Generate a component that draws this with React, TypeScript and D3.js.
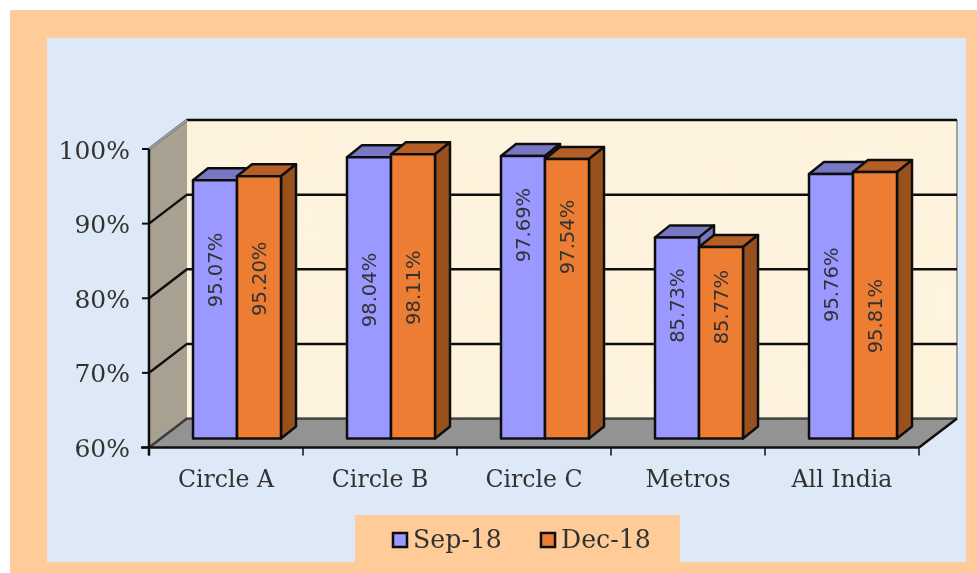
import React from "react";
import * as d3 from "d3";

const categories = ["Circle A", "Circle B", "Circle C", "Metros", "All India"];
const seriesNames = ["Sep-18", "Dec-18"];
// Bar heights as drawn in the picture, read against the axis
const sep18Heights = [94.6, 97.7, 97.85, 86.95, 95.45];
const dec18Heights = [95.15, 98.1, 97.45, 85.65, 95.7];
// Printed data labels
const sep18Labels = ["95.07%", "98.04%", "97.69%", "85.73%", "95.76%"];
const dec18Labels = ["95.20%", "98.11%", "97.54%", "85.77%", "95.81%"];
// Where each label is centred, in axis units
const sep18LabelAt = [82.58, 79.9, 88.6, 77.8, 80.6];
const dec18LabelAt = [81.4, 80.2, 87.0, 77.6, 76.4];
const yTicks = [60, 70, 80, 90, 100];

const W = 977, H = 573;
const depthX = 38, depthY = -29;
const barDepthX = 15, barDepthY = -12;
const barLift = 9, barShift = 11;
const serif = "'DejaVu Serif', serif";
const sans = "'DejaVu Sans', sans-serif";
const ink = "#111";
const textInk = "#333";

const palettes = [
  { front: "#9999FF", top: "#7878C2", side: "#7878C2" },
  { front: "#ED7D31", top: "#B55F25", side: "#98511F" },
];

const pts = (p: number[][]) => p.map((d) => d.join(",")).join(" ");

export default function App() {
  const x = d3.scaleBand<string>().domain(categories).range([149, 919]);
  const y = d3.scaleLinear().domain([60, 100]).range([447.5, 149]);
  const group = d3.scaleBand<string>().domain(seriesNames).range([0, 88]);
  const x0 = x.range()[0], x1 = x.range()[1];
  const yBase = y(60), yTop = y(100);
  const series = [
    { name: seriesNames[0], h: sep18Heights, l: sep18Labels, at: sep18LabelAt },
    { name: seriesNames[1], h: dec18Heights, l: dec18Labels, at: dec18LabelAt },
  ];
  const xEdges = [...categories.map((c) => x(c)!), x1];
  return (
    <svg width={W} height={H} style={{ position: "absolute", left: 0, top: 0, display: "block" }}>
      <defs>
        <filter id="soft" x="-2%" y="-2%" width="104%" height="104%">
          <feGaussianBlur stdDeviation="0.5" />
        </filter>
        <filter id="paper" x="0" y="0" width="100%" height="100%">
          <feTurbulence type="fractalNoise" baseFrequency="0.015" numOctaves={3} seed={4} />
          <feColorMatrix values="0 0 0 0 1  0 0 0 0 1  0 0 0 0 1  0.5 0 0 0 -0.12" />
        </filter>
      </defs>
      <rect width={W} height={H} fill="#fff" />
      <rect x={10} y={10} width={W - 10} height={H - 10} fill="#FFCC99" />
      <rect x={47} y={38} width={919} height={524} fill="#DDE9F6" />
      <rect x={355} y={515} width={325} height={47} fill="#FFCC99" />
      <g filter="url(#soft)">
        {/* back wall */}
        <rect x={x0 + depthX} y={yTop + depthY} width={x1 - x0} height={yBase - yTop} fill="#FEF2DB" />
        <rect x={x0 + depthX} y={yTop + depthY} width={x1 - x0} height={yBase - yTop} filter="url(#paper)" opacity={0.5} />
        <line x1={x1 + depthX} x2={x1 + depthX} y1={yTop + depthY} y2={yBase + depthY} stroke="#8a8a8a" strokeWidth={1.5} />
        {/* side wall */}
        <polygon
          points={pts([[x0, yBase], [x0, yTop], [x0 + depthX, yTop + depthY], [x0 + depthX, yBase + depthY]])}
          fill="#A8A192"
        />
        {/* floor */}
        <polygon
          points={pts([[x0, yBase], [x1, yBase], [x1 + depthX, yBase + depthY], [x0 + depthX, yBase + depthY]])}
          fill="#939393"
        />
        {/* grid */}
        {yTicks.map((t) => (
          <polyline
            key={t}
            points={pts([[x0, y(t)], [x0 + depthX, y(t) + depthY], [x1 + depthX, y(t) + depthY]])}
            fill="none"
            stroke={ink}
            strokeWidth={2.5}
            opacity={t === 60 ? 0.7 : 1}
          />
        ))}
        <line x1={x0} y1={yTop} x2={x0 + depthX} y2={yTop + depthY} stroke="#9a9a9a" strokeWidth={2.5} />
        <line x1={x1} y1={yBase} x2={x1 + depthX} y2={yBase + depthY} stroke={ink} strokeWidth={2.5} />
        {/* axes */}
        <line x1={x0} x2={x0} y1={yTop} y2={yBase + 8} stroke={ink} strokeWidth={2.5} />
        <line x1={x0 - 8} x2={x1} y1={yBase} y2={yBase} stroke={ink} strokeWidth={2.5} />
        {yTicks.map((t) => (
          <line key={t} x1={x0 - 7} x2={x0} y1={y(t)} y2={y(t)} stroke={ink} strokeWidth={2} />
        ))}
        {xEdges.map((e) => (
          <line key={e} x1={e} x2={e} y1={yBase} y2={yBase + 8} stroke={ink} strokeWidth={1.5} />
        ))}
        {/* bars */}
        {categories.map((c, i) => {
          const left = x(c)! + (x.bandwidth() - group.range()[1]) / 2 + barShift;
          return (
            <g key={c}>
              {series.map((s, k) => {
                const p = palettes[k];
                const bx = left + group(s.name)!;
                const bw = group.bandwidth();
                const top = y(s.h[i]) - barLift;
                const bot = y(60) - barLift;
                return (
                  <g key={s.name} stroke={ink} strokeWidth={2.5} strokeLinejoin="round">
                    <polygon
                      points={pts([[bx, top], [bx + barDepthX, top + barDepthY], [bx + bw + barDepthX, top + barDepthY], [bx + bw, top]])}
                      fill={p.top}
                    />
                    <polygon
                      points={pts([[bx + bw, top], [bx + bw + barDepthX, top + barDepthY], [bx + bw + barDepthX, bot + barDepthY], [bx + bw, bot]])}
                      fill={p.side}
                    />
                    <rect x={bx} y={top} width={bw} height={bot - top} fill={p.front} />
                  </g>
                );
              })}
              {series.map((s) => {
                const cx = left + group(s.name)! + group.bandwidth() / 2;
                const cy = y(s.at[i]) - barLift;
                return (
                  <text
                    key={s.name}
                    transform={`translate(${cx},${cy}) rotate(-90)`}
                    textAnchor="middle"
                    dominantBaseline="central"
                    fontFamily={sans}
                    fontSize={19.5}
                    fill={textInk}
                  >
                    {s.l[i]}
                  </text>
                );
              })}
            </g>
          );
        })}
        {/* tick labels */}
        {yTicks.map((t) => (
          <text key={t} x={130} y={y(t) + 9.5} textAnchor="end" fontFamily={serif} fontSize={25} fill={textInk}>
            {t}%
          </text>
        ))}
        {categories.map((c) => (
          <text
            key={c}
            x={x(c)! + x.bandwidth() / 2}
            y={487}
            textAnchor="middle"
            fontFamily={serif}
            fontSize={23.6}
            fill={textInk}
          >
            {c}
          </text>
        ))}
        {/* legend */}
        {seriesNames.map((n, k) => {
          const lx = d3.scaleOrdinal<string, number>().domain(seriesNames).range([392, 540])(n);
          return (
            <g key={n}>
              <rect x={lx + 1} y={533} width={14} height={14} fill={palettes[k].front} stroke={ink} strokeWidth={2.5} />
              <text x={lx + 21} y={548} fontFamily={serif} fontSize={25.2} fill={textInk}>
                {n}
              </text>
            </g>
          );
        })}
      </g>
    </svg>
  );
}
